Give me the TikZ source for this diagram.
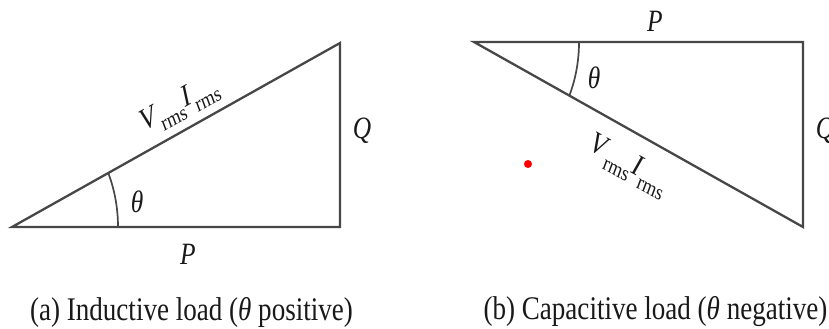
\documentclass[tikz,border=0pt]{standalone}
\usepackage{fontspec}
\setmainfont{Liberation Serif}
\usetikzlibrary{calc}
\newcommand{\vrmsirms}{\textit{V}\raisebox{-0.34em}{\fontsize{22}{22}\selectfont rms}\kern1pt\textit{I}\raisebox{-0.34em}{\fontsize{22}{22}\selectfont rms}}
\begin{document}
\begin{tikzpicture}[x=1.219512pt, y=-1pt, xscale=0.82, transform shape,
  tri/.style={draw=black!72, line width=2.3pt, line join=miter},
  arcline/.style={draw=black!72, line width=1.7pt},
  lbl/.style={font=\fontsize{31}{36}\selectfont, text=black!90, inner sep=0pt},
  captxt/.style={font=\fontsize{33}{40}\selectfont, text=black!90, inner sep=0pt}]
\useasboundingbox (0,0) rectangle (829,329);
% (a) inductive
\coordinate (A1) at (12,227);
\coordinate (B1) at (340,227);
\coordinate (C1) at (340,43);
\draw[tri] (A1) -- (B1) -- (C1) -- cycle;
\draw[arcline] ($(A1)+(106,0)$) arc[start angle=0, end angle=-24.7, x radius=106, y radius=129];
\node[lbl] (P1) at (188,254) {\textit{P}};
\node[lbl] (Q1) at (362,131) {\textit{Q}};
\node[lbl] (T1) at (137,202) {\textit{θ}};
\node[lbl, rotate=24.7] (S1) at (180,106) {\vrmsirms};
% (b) capacitive
\coordinate (A2) at (474,42);
\coordinate (B2) at (803,42);
\coordinate (C2) at (803,227);
\draw[tri] (A2) -- (B2) -- (C2) -- cycle;
\draw[arcline] ($(A2)+(105,0)$) arc[start angle=0, end angle=24.7, x radius=105, y radius=128];
\node[lbl] (P2) at (655,21) {\textit{P}};
\node[lbl] (Q2) at (825,131) {\textit{Q}};
\node[lbl] (T2) at (594,78) {\textit{θ}};
\node[lbl, rotate=-24.7] (S2) at (628,166) {\vrmsirms};
\fill[red] (528,164) circle[radius=4];
% captions
\node[captxt] (capa) at (191.5,312) {(a) Inductive load (\textit{θ} positive)};
\node[captxt] (capb) at (655.5,312) {(b) Capacitive load (\textit{θ} negative)};
\end{tikzpicture}
\end{document}
